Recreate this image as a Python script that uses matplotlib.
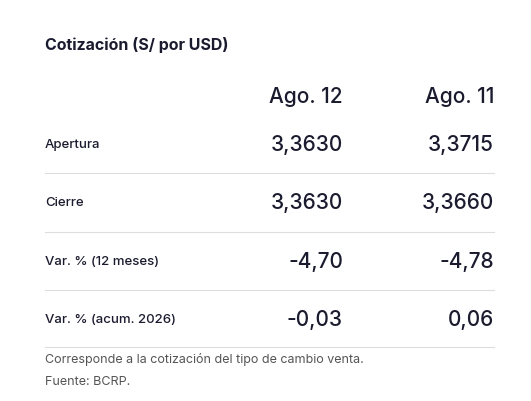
import matplotlib
matplotlib.use("Agg")
import matplotlib.pyplot as plt
from matplotlib.lines import Line2D

title = "Cotización (S/ por USD)"
columns = ["Ago. 12", "Ago. 11"]
row_labels = ["Apertura", "Cierre", "Var. % (12 meses)", "Var. % (acum. 2026)"]
col1 = ["3,3630", "3,3630", "-4,70", "-0,03"]
col2 = ["3,3715", "3,3660", "-4,78", "0,06"]
notes = ["Corresponde a la cotización del tipo de cambio venta.", "Fuente: BCRP."]

W, H = 531, 401
fig = plt.figure(figsize=(W/100, H/100), dpi=100)
fig.patch.set_facecolor("white")
plt.rcParams['font.family'] = ['Inter', 'DejaVu Sans']
dark = "#1b1b2f"

def T(x, y, s, **kw):
    fig.text(x/W, 1 - y/H, s, va="center", **kw)

T(45, 45, title, fontsize=11.5, fontweight="bold", color=dark)
T(343, 97, columns[0], fontsize=15, ha="right", color=dark, fontweight="medium")
T(494, 97, columns[1], fontsize=15, ha="right", color=dark, fontweight="medium")
ys = [145, 203, 262, 320]
for i, y in enumerate(ys):
    T(45, y, row_labels[i], fontsize=9.5, color=dark, fontweight="medium")
    T(343, y, col1[i], fontsize=15, ha="right", color=dark, fontweight="medium")
    T(494, y, col2[i], fontsize=15, ha="right", color=dark, fontweight="medium")
for y in [173, 232, 290, 347]:
    fig.add_artist(Line2D([45/W, 494/W], [1-y/H, 1-y/H], color="#dddddd", lw=0.8))
T(45, 360, notes[0], fontsize=9, color="#555555")
T(45, 382, notes[1], fontsize=9, color="#555555")
fig.savefig("out.png", dpi=100)
